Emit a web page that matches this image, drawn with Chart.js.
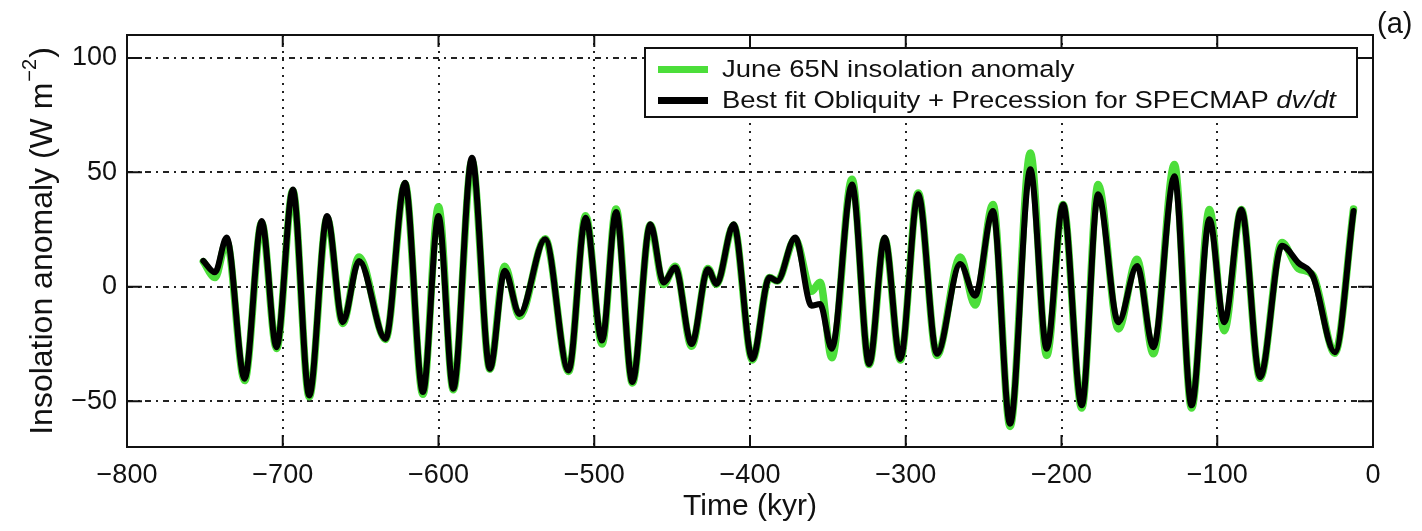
<!DOCTYPE html>
<html>
<head>
<meta charset="utf-8">
<script src="https://cdn.jsdelivr.net/npm/chart.js@4.4.0/dist/chart.umd.min.js"></script>
<style>
  html, body { margin: 0; padding: 0; background: #fff; }
  #wrap { width: 1422px; height: 531px; }
</style>
</head>
<body>
<div id="wrap"><canvas id="chart" width="1422" height="531"></canvas></div>
<script>
// Time axis (kyr) at the turning points of the curves
const timeKyr = [-751, -743.5, -736, -724.5, -713.5, -704, -693.5, -683, -671.5, -661.5,
  -651, -634, -621.5, -610, -600, -590.5, -578.5, -567, -557.5, -548,
  -531.5, -516.5, -505.5, -495, -486, -475.5, -464, -455.5, -448, -437.5,
  -427, -421.5, -410.5, -398.5, -387.5, -382.5, -371, -360.5, -355, -347.5,
  -334.5, -323.5, -313.5, -303.5, -292, -280, -265, -255.5, -244, -233,
  -220, -209.5, -199, -187, -176.5, -163.5, -151.5, -141, -127.5, -116.5,
  -105, -95.5, -84.5, -72.5, -58.5, -48, -38.5, -24.5, -12.5];

// June 65N insolation anomaly (W m-2)
const june65N = [11, 4, 20, -41, 28, -27, 42, -48, 30, -16,
  13, -23, 45, -47, 35, -45, 55, -36, 9, -13,
  21, -37, 31, -25, 34, -42, 27, 1, 9, -26,
  8, 1, 27, -32, 4, 2.5, 21, -2, 2, -31,
  47, -34, 21, -32, 41, -30, 13, -8, 36, -61,
  58.5, -30, 36, -53, 44.7, -18.4, 12, -29.3, 53.4, -53,
  33.8, -19.2, 33.8, -40, 19.3, 8, 5, -29, 34];

// Best fit obliquity + precession for SPECMAP dv/dt
const bestFit = [11.3, 6.3, 21.5, -40.2, 28.7, -26.4, 42.5, -47.5, 30.9, -15.5,
  11.3, -22.8, 45.5, -46, 30.9, -44.5, 56.4, -35.8, 7, -11.9,
  20.8, -36.6, 30.2, -23.5, 32.7, -41.6, 27.3, 1.9, 8.4, -25,
  7.7, 1.2, 27.3, -31.5, 4.1, 2.5, 21.5, -8.3, -7.5, -27.1,
  44.7, -33.7, 21.5, -31.5, 40.4, -29.3, 9.9, -3.9, 33.1, -59.8,
  51.3, -27.1, 36, -51.8, 40.4, -15.5, 9.1, -26.4, 48.3, -51.8,
  29.5, -15.5, 33.8, -39.5, 17.9, 10.5, 4.5, -28.6, 33.1];

const seriesLabels = ['June 65N insolation anomaly', 'Best fit Obliquity + Precession for SPECMAP '];
const GREEN = '#4cde3a';
const FONT = '"Liberation Sans", Arial, Helvetica, sans-serif';

const toPoints = (vals) => vals.map((v, i) => ({ x: timeKyr[i], y: v }));
const minus = (v) => String(v).replace('-', '\u2212');

// frame, inward ticks, legend box, titles
const decorations = {
  id: 'decorations',
  afterDatasetsDraw(chart) {
    const { ctx, chartArea: a, scales: { x, y } } = chart;
    ctx.save();
    ctx.strokeStyle = '#111';
    ctx.lineWidth = 2;
    ctx.strokeRect(a.left, a.top, a.right - a.left, a.bottom - a.top);
    ctx.beginPath();
    x.ticks.forEach((t) => {
      if (t.value <= x.min || t.value >= x.max) return;
      const px = x.getPixelForValue(t.value);
      ctx.moveTo(px, a.bottom); ctx.lineTo(px, a.bottom - 12);
      ctx.moveTo(px, a.top); ctx.lineTo(px, a.top + 12);
    });
    y.ticks.forEach((t) => {
      const py = y.getPixelForValue(t.value);
      ctx.moveTo(a.left, py); ctx.lineTo(a.left + 15, py);
      ctx.moveTo(a.right, py); ctx.lineTo(a.right - 15, py);
    });
    ctx.stroke();

    // legend
    const lx = 645, ly = 48, lw = 712, lh = 69;
    ctx.fillStyle = '#fff';
    ctx.fillRect(lx, ly, lw, lh);
    ctx.strokeRect(lx, ly, lw, lh);
    ctx.lineWidth = 7;
    ctx.strokeStyle = GREEN;
    ctx.beginPath(); ctx.moveTo(658, 69.5); ctx.lineTo(708, 69.5); ctx.stroke();
    ctx.strokeStyle = '#000';
    ctx.beginPath(); ctx.moveTo(658, 100.5); ctx.lineTo(708, 100.5); ctx.stroke();
    ctx.fillStyle = '#111';
    ctx.textBaseline = 'alphabetic';
    ctx.textAlign = 'left';
    ctx.save();
    ctx.translate(722, 0);
    ctx.scale(1.12, 1);
    ctx.font = '24.5px ' + FONT;
    ctx.fillText(seriesLabels[0], 0, 77);
    ctx.fillText(seriesLabels[1], 0, 107.5);
    const w = ctx.measureText(seriesLabels[1]).width;
    ctx.font = 'italic 24.5px ' + FONT;
    ctx.fillText('dv/dt', w, 107.5);
    ctx.restore();

    // x title
    ctx.font = '30px ' + FONT;
    ctx.textAlign = 'center';
    ctx.fillText('Time (kyr)', (a.left + a.right) / 2, 515);

    // y title with superscript
    ctx.save();
    ctx.translate(52, (a.top + a.bottom) / 2);
    ctx.rotate(-Math.PI / 2);
    ctx.textAlign = 'left';
    const main = 'Insolation anomaly (W m';
    ctx.font = '32px ' + FONT;
    const wm = ctx.measureText(main).width;
    ctx.font = '20px ' + FONT;
    const ws = ctx.measureText('\u22122').width;
    ctx.font = '32px ' + FONT;
    const wc = ctx.measureText(')').width;
    let sx = -(wm + ws + wc + 2) / 2;
    ctx.fillText(main, sx, 0);
    ctx.font = '20px ' + FONT;
    ctx.fillText('\u22122', sx + wm + 1, -16);
    ctx.font = '32px ' + FONT;
    ctx.fillText(')', sx + wm + ws + 2, 0);
    ctx.restore();

    // panel label
    ctx.font = '29px ' + FONT;
    ctx.textAlign = 'left';
    ctx.fillText('(a)', 1377, 33);
    ctx.restore();
  }
};

new Chart(document.getElementById('chart'), {
  type: 'line',
  data: {
    datasets: [
      {
        label: seriesLabels[1] + 'dv/dt',
        data: toPoints(bestFit),
        borderColor: '#000',
        borderWidth: 6,
      },
      {
        label: seriesLabels[0],
        data: toPoints(june65N),
        borderColor: GREEN,
        borderWidth: 7.5,
      },
    ],
  },
  options: {
    responsive: false,
    animation: false,
    events: [],
    layout: { padding: { top: 35, right: 49, left: 0, bottom: 0 } },
    elements: {
      point: { radius: 0 },
      line: { cubicInterpolationMode: 'monotone', borderCapStyle: 'round', borderJoinStyle: 'round' },
    },
    plugins: { legend: { display: false }, tooltip: { enabled: false } },
    scales: {
      x: {
        type: 'linear',
        min: -800,
        max: 0,
        afterFit: (s) => { s.height = 84; },
        grid: { color: '#222', lineWidth: 2, drawTicks: false },
        border: { display: false, dash: [2, 6] },
        ticks: {
          stepSize: 100,
          padding: 12,
          color: '#111',
          font: { family: FONT, size: 27 },
          callback: (v) => minus(v),
        },
      },
      y: {
        min: -70,
        max: 110,
        afterFit: (s) => { s.width = 127; },
        grid: { color: '#222', lineWidth: 2, drawTicks: false },
        border: { display: false, dash: [6, 5, 2, 5] },
        ticks: {
          stepSize: 50,
          includeBounds: false,
          padding: 10,
          color: '#111',
          font: { family: FONT, size: 27 },
          callback: (v) => minus(v),
        },
      },
    },
  },
  plugins: [decorations],
});
</script>
</body>
</html>
